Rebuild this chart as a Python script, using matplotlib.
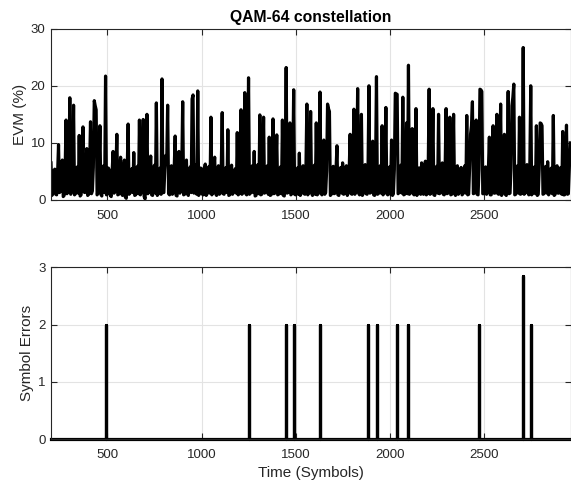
import numpy as np
import matplotlib
matplotlib.use("Agg")
import matplotlib.pyplot as plt

plt.rcParams['font.family'] = ['Liberation Sans', 'DejaVu Sans']

# ---- data ----
evm_start = 200
evm_step = 5
evm_values = [
    6.5, 0.8, 1.2, 5.1, 5.4, 1.0, 0.9, 4.6, 9.7, 1.3, 1.5, 5.6, 7.0, 0.6, 0.8, 5.0, 14.0, 1.1, 1.4, 5.4,
    17.9, 1.0, 2.0, 5.2, 16.6, 0.9, 1.1, 4.9, 5.8, 1.2, 11.3, 0.7, 0.9, 5.5, 12.8, 1.4, 1.3, 5.0, 9.0, 0.8,
    1.0, 5.3, 13.7, 1.1, 1.6, 5.7, 17.4, 16.5, 15.8, 0.9, 1.2, 5.1, 13.0, 1.0, 0.7, 4.8, 6.0, 1.3, 21.7, 0.9,
    1.1, 5.6, 5.2, 0.8, 0.6, 5.0, 8.5, 1.2, 1.4, 5.4, 11.5, 0.9, 1.0, 4.7, 7.5, 1.1, 0.8, 5.3, 7.0, 0.5,
    0.3, 5.1, 13.3, 1.0, 1.2, 4.9, 5.5, 1.3, 8.3, 0.8, 0.9, 5.6, 5.9, 1.1, 14.0, 0.9, 1.3, 5.2, 14.1, 0.6,
    0.2, 5.4, 15.0, 1.1, 1.5, 5.0, 7.7, 0.9, 0.8, 5.5, 6.1, 1.2, 17.0, 0.8, 1.1, 5.2, 5.6, 1.0, 21.2, 1.3,
    1.3, 5.3, 7.8, 6.5, 16.6, 1.1, 0.9, 5.1, 6.0, 1.0, 1.2, 5.7, 11.2, 0.8, 0.7, 4.9, 8.5, 1.2, 1.5, 5.4,
    17.2, 0.9, 1.0, 5.5, 7.0, 1.1, 0.8, 5.0, 5.8, 1.3, 17.7, 18.4, 1.2, 5.2, 6.2, 1.0, 19.1, 0.8, 1.4, 5.6,
    5.5, 1.0, 0.9, 5.3, 6.3, 0.8, 1.1, 4.8, 5.9, 1.2, 14.5, 0.9, 1.3, 5.4, 7.5, 1.1, 0.8, 5.1, 6.0, 1.0,
    1.2, 5.6, 15.3, 1.1, 1.0, 5.0, 5.7, 1.3, 12.3, 0.8, 0.9, 5.4, 6.1, 1.0, 1.4, 4.9, 5.5, 1.2, 11.8, 0.9,
    1.1, 5.2, 15.8, 1.0, 1.3, 5.5, 18.8, 1.1, 0.9, 5.3, 21.4, 1.0, 1.2, 5.0, 6.0, 1.3, 8.5, 0.7, 0.8, 5.4,
    6.2, 1.1, 14.9, 0.9, 1.0, 5.6, 14.5, 1.2, 1.4, 5.1, 6.0, 1.0, 11.0, 0.8, 0.9, 5.3, 14.2, 1.1, 1.2, 5.5,
    11.4, 0.9, 1.0, 5.2, 5.8, 1.1, 14.0, 0.8, 0.7, 5.4, 23.2, 1.2, 1.3, 5.0, 13.5, 0.9, 1.1, 5.6, 19.3, 1.0,
    0.9, 5.1, 5.6, 1.0, 8.2, 0.8, 1.2, 5.5, 6.0, 1.1, 1.0, 5.3, 16.8, 0.9, 1.4, 5.0, 15.5, 1.2, 0.8, 5.4,
    6.1, 1.0, 13.5, 0.9, 1.1, 5.2, 18.9, 1.2, 0.9, 5.6, 10.5, 1.0, 1.3, 5.1, 16.8, 16.0, 15.5, 0.8, 1.0, 5.3,
    5.9, 1.1, 1.2, 5.4, 9.5, 0.9, 0.8, 5.0, 5.7, 1.2, 6.5, 1.0, 1.1, 5.5, 6.0, 0.8, 1.3, 5.2, 11.5, 1.1,
    1.0, 5.6, 15.9, 1.0, 1.4, 5.1, 19.5, 1.2, 0.9, 5.4, 15.0, 0.8, 1.2, 5.3, 6.2, 1.1, 1.0, 5.0, 20.0, 1.2,
    1.3, 5.5, 10.3, 0.9, 0.8, 5.2, 21.6, 1.0, 1.1, 5.6, 6.0, 1.2, 13.0, 0.9, 1.2, 5.1, 16.2, 1.1, 0.9, 5.4,
    5.8, 1.0, 10.5, 0.8, 1.1, 5.3, 18.7, 18.6, 18.5, 1.1, 1.3, 5.0, 6.1, 1.2, 18.0, 0.9, 1.0, 5.5, 13.5, 1.1,
    23.6, 1.0, 1.2, 5.4, 12.5, 1.1, 0.9, 5.2, 16.0, 0.8, 1.3, 5.6, 5.6, 1.0, 6.5, 1.2, 1.0, 5.1, 6.8, 0.9,
    1.1, 5.5, 19.4, 1.0, 1.2, 5.3, 16.0, 0.9, 0.8, 5.0, 5.9, 1.2, 15.0, 1.1, 1.3, 5.4, 6.5, 1.0, 0.9, 5.6,
    16.0, 1.1, 1.2, 5.2, 14.5, 0.9, 1.0, 5.5, 15.0, 1.2, 0.8, 5.1, 6.0, 1.0, 1.3, 5.3, 5.7, 0.9, 1.1, 5.4,
    6.0, 1.2, 14.8, 0.9, 1.0, 5.6, 11.5, 13.0, 17.2, 1.1, 1.2, 5.0, 14.0, 1.0, 0.9, 5.3, 19.4, 19.3, 19.0, 1.1,
    1.1, 5.2, 5.8, 1.0, 1.3, 5.5, 11.0, 0.9, 0.9, 5.1, 13.0, 1.2, 1.2, 5.4, 15.0, 1.1, 1.0, 5.6, 16.8, 0.8,
    1.3, 5.3, 11.5, 1.0, 0.8, 5.0, 19.0, 1.1, 1.2, 5.5, 16.5, 18.0, 20.3, 0.9, 1.0, 5.2, 6.0, 1.2, 14.5, 1.0,
    1.1, 5.4, 26.7, 1.0, 1.3, 5.1, 6.2, 1.2, 0.9, 5.6, 20.0, 0.9, 1.2, 5.3, 5.8, 1.1, 13.0, 0.8, 1.0, 5.5,
    13.5, 13.4, 13.0, 1.0, 1.1, 5.2, 5.9, 1.2, 6.7, 0.9, 1.3, 5.4, 5.6, 1.1, 14.8, 0.8, 1.0, 5.0, 6.0, 1.2,
    1.2, 5.5, 5.7, 1.0, 12.0, 0.9, 0.9, 5.3, 13.1, 1.0, 1.1, 5.6, 10.0,
]

error_times = [493, 1255, 1450, 1493, 1632, 1884, 1932, 2041, 2100, 2475, 2710, 2749]
error_counts = [2, 2, 2, 2, 2, 2, 2, 2, 2, 2, 2.84, 2]

x_min, x_max = 200, 2964
x_ticks = [500, 1000, 1500, 2000, 2500]

# ---- build series ----
evm_time = evm_start + evm_step * np.arange(len(evm_values))

err_x = [x_min]
err_y = [0]
for t, c in zip(error_times, error_counts):
    err_x += [t, t, t]
    err_y += [0, c, 0]
err_x.append(x_max)
err_y.append(0)

# ---- figure ----
W, H = 571, 483
fig = plt.figure(figsize=(W / 100, H / 100), dpi=100)

def px_axes(left, top, right, bottom):
    return fig.add_axes([left / W, 1 - bottom / H, (right - left) / W, (bottom - top) / H])

ax1 = px_axes(51, 28.7, 571, 200)
ax2 = px_axes(51, 267.3, 571, 439)

for ax in (ax1, ax2):
    ax.set_xlim(x_min, x_max)
    ax.set_xticks(x_ticks)
    ax.grid(True, color='#e3e3e3', linewidth=0.8)
    ax.set_axisbelow(True)
    ax.tick_params(direction='in', length=4, width=0.8, top=True, right=True,
                   labelsize=9.5, colors='#262626', pad=7)
    ax.tick_params(axis='y', pad=4)
    for s in ax.spines.values():
        s.set_linewidth(0.8)
        s.set_color('#262626')

ax1.plot(evm_time, evm_values, color='black', linewidth=2.3,
         solid_joinstyle='round')
ax1.set_ylim(0, 30)
ax1.set_yticks([0, 10, 20, 30])
ax1.set_ylabel('EVM (%)', fontsize=11, color='#262626', labelpad=2.5)
ax1.set_title('QAM-64 constellation', fontsize=11.3, fontweight='bold', pad=5)

ax2.plot(err_x, err_y, color='black', linewidth=2.3, clip_on=False,
         solid_joinstyle='round')
ax2.set_ylim(0, 3)
ax2.set_yticks([0, 1, 2, 3])
ax2.set_ylabel('Symbol Errors', fontsize=11, color='#262626', labelpad=2.5)
ax2.set_xlabel('Time (Symbols)', fontsize=11, color='#262626', labelpad=4)

fig.savefig('out.png', dpi=100)
